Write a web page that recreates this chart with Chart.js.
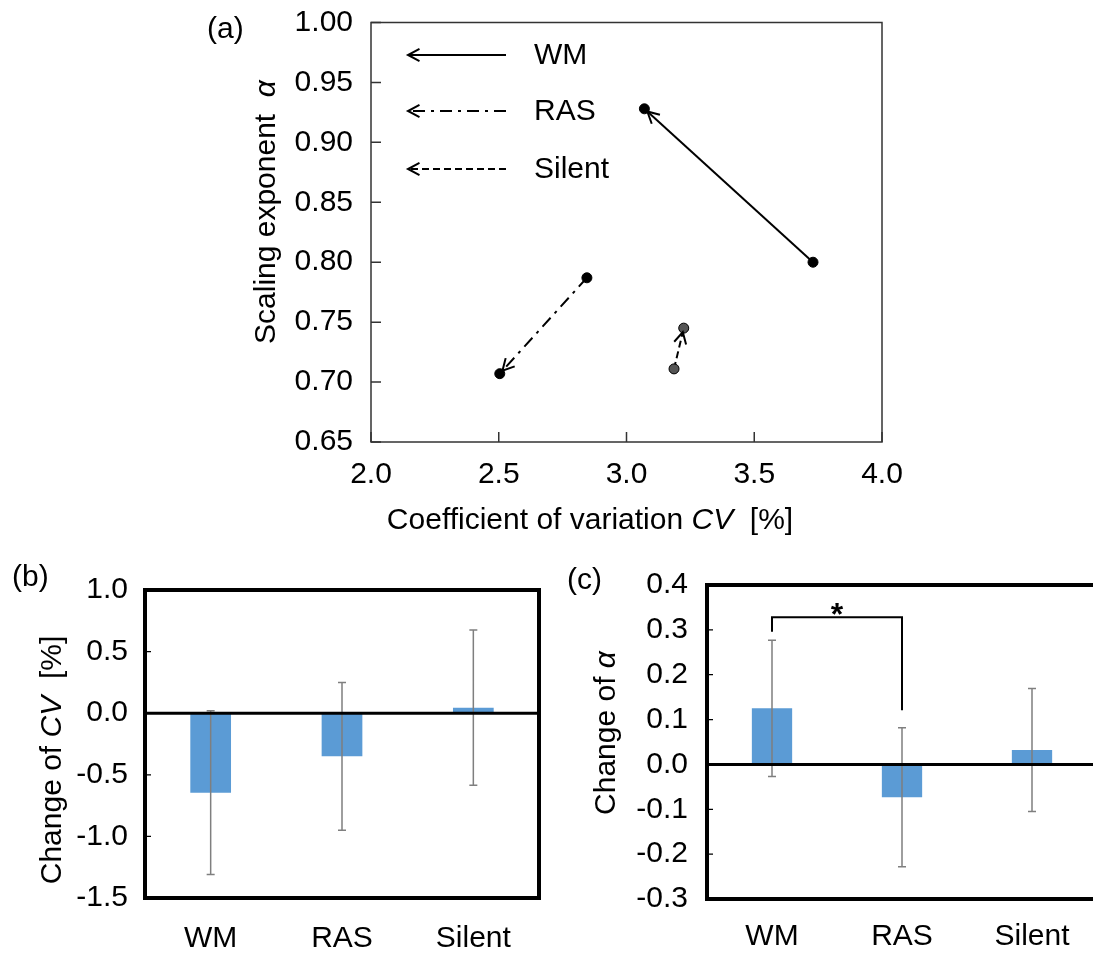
<!DOCTYPE html>
<html>
<head>
<meta charset="utf-8">
<script src="https://cdn.jsdelivr.net/npm/chart.js@4.4.0/dist/chart.umd.min.js"></script>
<style>
  html, body { margin: 0; padding: 0; background: #fff; overflow: hidden; width: 1093px; height: 953px; }
  canvas { position: absolute; }
  #ca { left: 0; top: 0; }
  #cb { left: 0; top: 560px; }
  #cc { left: 560px; top: 560px; }
</style>
</head>
<body>
<canvas id="ca" width="1093" height="560"></canvas>
<canvas id="cb" width="560" height="393"></canvas>
<canvas id="cc" width="560" height="393"></canvas>
<script>
const groups = ['WM', 'RAS', 'Silent'];

// (a) before -> after
const cvBefore = [3.73, 2.845, 3.186];
const alphaBefore = [0.800, 0.787, 0.711];
const cvAfter = [3.07, 2.504, 3.224];
const alphaAfter = [0.928, 0.707, 0.745];
const xTicksA = [2.0, 2.5, 3.0, 3.5, 4.0];
const yTicksA = [0.65, 0.70, 0.75, 0.80, 0.85, 0.90, 0.95, 1.00];

// (b) change of CV
const cvChange = [-0.645, -0.35, 0.045];
const cvChangeSd = [0.665, 0.60, 0.63];
const yTicksB = [-1.5, -1.0, -0.5, 0.0, 0.5, 1.0];

// (c) change of alpha
const alphaChange = [0.125, -0.073, 0.032];
const alphaChangeSd = [0.152, 0.155, 0.137];
const yTicksC = [-0.3, -0.2, -0.1, 0.0, 0.1, 0.2, 0.3, 0.4];
const sigPair = [0, 1];
const sigBracket = [0.296, 0.328, 0.121]; // left foot, top, right foot

const FONT = '"Liberation Sans", Arial, sans-serif';
Chart.defaults.font.family = FONT;
Chart.defaults.font.size = 30;
Chart.defaults.color = '#000';

const dashes = [[], [12, 6, 3, 6], [7, 4]];
const dotFill = ['#000', '#000', '#555'];
const BAR = '#5B9BD5';

function setTicks(arr) {
  return s => { s.ticks = arr.map(v => ({ value: v })); };
}

// nudge layout padding until the plot area top sits where we want it
function pinTop(chart, target) {
  for (let k = 0; k < 4; k++) {
    const d = chart.chartArea.top - target;
    if (Math.abs(d) < 0.5) break;
    chart.options.layout.padding.top -= d;
    chart.update();
  }
}

function richText(ctx, parts, cx, cy, rot) {
  ctx.save();
  ctx.translate(cx, cy);
  if (rot) ctx.rotate(rot);
  ctx.textBaseline = 'middle';
  ctx.textAlign = 'left';
  ctx.fillStyle = '#000';
  let w = 0;
  parts.forEach(p => {
    ctx.font = (p.it ? 'italic ' : '') + '30px ' + FONT;
    p.w = ctx.measureText(p.t).width;
    w += p.w;
  });
  let x = -w / 2;
  parts.forEach(p => {
    ctx.font = (p.it ? 'italic ' : '') + '30px ' + FONT;
    ctx.fillText(p.t, x, 0);
    x += p.w;
  });
  ctx.restore();
}

function label(ctx, t, x, y) {
  ctx.save();
  ctx.font = '30px ' + FONT;
  ctx.fillStyle = '#000';
  ctx.textBaseline = 'middle';
  ctx.textAlign = 'left';
  ctx.fillText(t, x, y);
  ctx.restore();
}

function arrowHead(ctx, tx, ty, dx, dy) {
  const L = 13, th = 28 * Math.PI / 180;
  const c = Math.cos(th), s = Math.sin(th);
  const a1x = dx * c - dy * s, a1y = dx * s + dy * c;
  const a2x = dx * c + dy * s, a2y = -dx * s + dy * c;
  ctx.save();
  ctx.setLineDash([]);
  ctx.strokeStyle = '#000';
  ctx.lineWidth = 2;
  ctx.beginPath();
  ctx.moveTo(tx - L * a1x, ty - L * a1y);
  ctx.lineTo(tx, ty);
  ctx.lineTo(tx - L * a2x, ty - L * a2y);
  ctx.stroke();
  ctx.restore();
}

// ---------- (a) ----------
const panelA = {
  id: 'panelA',
  afterDraw(chart) {
    const { ctx, chartArea: a, scales: { x, y } } = chart;
    ctx.save();
    ctx.strokeStyle = '#333';
    ctx.lineWidth = 1.5;
    ctx.strokeRect(a.left, a.top, a.right - a.left, a.bottom - a.top);
    ctx.beginPath();
    xTicksA.forEach(v => { const p = x.getPixelForValue(v); ctx.moveTo(p, a.bottom); ctx.lineTo(p, a.bottom - 10); });
    yTicksA.forEach(v => { const p = y.getPixelForValue(v); ctx.moveTo(a.left, p); ctx.lineTo(a.left + 10, p); });
    ctx.stroke();
    ctx.restore();

    groups.forEach((g, i) => {
      const x0 = x.getPixelForValue(cvBefore[i]), y0 = y.getPixelForValue(alphaBefore[i]);
      const x1 = x.getPixelForValue(cvAfter[i]), y1 = y.getPixelForValue(alphaAfter[i]);
      const len = Math.hypot(x1 - x0, y1 - y0);
      const dx = (x1 - x0) / len, dy = (y1 - y0) / len;
      arrowHead(ctx, x1 - 4 * dx, y1 - 4 * dy, dx, dy);
    });

    // legend
    const legY = [55, 111, 169];
    groups.forEach((g, i) => {
      ctx.save();
      ctx.strokeStyle = '#000';
      ctx.lineWidth = 2;
      ctx.setLineDash(dashes[i]);
      ctx.beginPath();
      ctx.moveTo(506, legY[i]);
      ctx.lineTo(409, legY[i]);
      ctx.stroke();
      ctx.restore();
      arrowHead(ctx, 408, legY[i], -1, 0);
      label(ctx, g, 534, legY[i] + 1);
    });

    label(ctx, '(a)', 207, 30);
    richText(ctx, [{ t: 'Scaling exponent  ' }, { t: 'α', it: true }], 267, 212, -Math.PI / 2);
    richText(ctx, [{ t: 'Coefficient of variation ' }, { t: 'CV', it: true }, { t: '  [%]' }], 590, 521);
  }
};

const chartA = new Chart(document.getElementById('ca'), {
  type: 'scatter',
  data: {
    datasets: groups.map((g, i) => ({
      label: g,
      data: [{ x: cvBefore[i], y: alphaBefore[i] }, { x: cvAfter[i], y: alphaAfter[i] }],
      showLine: true,
      borderColor: '#000',
      borderWidth: 2,
      borderDash: dashes[i],
      pointRadius: 5,
      pointBackgroundColor: dotFill[i],
      pointBorderColor: '#000',
      pointBorderWidth: 1
    }))
  },
  options: {
    responsive: false, animation: false, devicePixelRatio: 1,
    layout: { padding: { left: 0, right: 211, top: 17, bottom: 0 } },
    plugins: { legend: { display: false }, tooltip: { enabled: false } },
    scales: {
      x: {
        type: 'linear', min: 2, max: 4,
        afterBuildTicks: setTicks(xTicksA),
        afterFit: s => { s.height = 118; },
        grid: { display: false, drawTicks: false }, border: { display: false },
        ticks: { padding: 15, maxRotation: 0, autoSkip: false, callback: v => v.toFixed(1) }
      },
      y: {
        type: 'linear', min: 0.65, max: 1.0,
        afterBuildTicks: setTicks(yTicksA),
        afterFit: s => { s.width = 371; },
        grid: { display: false, drawTicks: false }, border: { display: false },
        ticks: { padding: 18, autoSkip: false, font: { lineHeight: 0.3 }, callback: v => v.toFixed(2) }
      }
    }
  },
  plugins: [panelA]
});
pinTop(chartA, 17);

// ---------- bar panels ----------
function barPanel(id, vals, sds, ticks, letter, titleParts, titleX, titleY, letterX, letterY, extra) {
  return {
    id: id,
    afterDatasetsDraw(chart) {
      const { ctx, chartArea: a, scales: { x, y } } = chart;
      ctx.save();
      ctx.strokeStyle = '#7f7f7f';
      ctx.lineWidth = 1.5;
      ctx.beginPath();
      vals.forEach((v, i) => {
        const px = x.getPixelForValue(i);
        const t = y.getPixelForValue(v + sds[i]), b = y.getPixelForValue(v - sds[i]);
        ctx.moveTo(px, t); ctx.lineTo(px, b);
        ctx.moveTo(px - 4, t); ctx.lineTo(px + 4, t);
        ctx.moveTo(px - 4, b); ctx.lineTo(px + 4, b);
      });
      ctx.stroke();
      // zero line
      ctx.strokeStyle = '#000';
      ctx.lineWidth = 3;
      ctx.beginPath();
      const z = y.getPixelForValue(0);
      ctx.moveTo(a.left, z); ctx.lineTo(a.right, z);
      ctx.stroke();
      // ticks
      ctx.lineWidth = 1.2;
      ctx.beginPath();
      ticks.forEach(v => { const p = y.getPixelForValue(v); ctx.moveTo(a.left, p); ctx.lineTo(a.left + 6, p); });
      ctx.stroke();
      // frame
      ctx.lineWidth = 4;
      ctx.strokeRect(a.left, a.top, a.right - a.left, a.bottom - a.top);
      ctx.restore();
      if (extra) extra(chart);
      label(ctx, letter, letterX, letterY);
      richText(ctx, titleParts, titleX, titleY, -Math.PI / 2);
    }
  };
}

function barConfig(vals, ticks, min, max, pad, yWidth, xHeight, xPad, yPad, plugin) {
  return {
    type: 'bar',
    data: {
      labels: groups,
      datasets: [{ data: vals, backgroundColor: BAR, borderWidth: 0, barPercentage: 0.31, categoryPercentage: 1 }]
    },
    options: {
      responsive: false, animation: false, devicePixelRatio: 1,
      layout: { padding: pad },
      plugins: { legend: { display: false }, tooltip: { enabled: false } },
      scales: {
        x: {
          grid: { display: false, drawTicks: false }, border: { display: false },
          afterFit: s => { s.height = xHeight; },
          ticks: { padding: xPad, maxRotation: 0, autoSkip: false }
        },
        y: {
          type: 'linear', min: min, max: max,
          afterBuildTicks: setTicks(ticks),
          afterFit: s => { s.width = yWidth; },
          grid: { display: false, drawTicks: false }, border: { display: false },
          ticks: { padding: yPad, autoSkip: false, font: { lineHeight: 0.3 }, callback: v => v.toFixed(1) }
        }
      }
    },
    plugins: [plugin]
  };
}

const chartB = new Chart(document.getElementById('cb'), barConfig(
  cvChange, yTicksB, -1.5, 1.0, { left: 0, right: 21, top: 30, bottom: 0 }, 145, 55, 23, 17,
  barPanel('panelB', cvChange, cvChangeSd, yTicksB, '(b)',
    [{ t: 'Change of ' }, { t: 'CV', it: true }, { t: '  [%]' }], 53, 200, 12, 18)
));
pinTop(chartB, 30);

function bracket(chart) {
  const { ctx, scales: { x, y } } = chart;
  const xl = x.getPixelForValue(sigPair[0]), xr = x.getPixelForValue(sigPair[1]);
  const yl = y.getPixelForValue(sigBracket[0]), yt = y.getPixelForValue(sigBracket[1]), yr = y.getPixelForValue(sigBracket[2]);
  ctx.save();
  ctx.strokeStyle = '#000';
  ctx.lineWidth = 2;
  ctx.beginPath();
  ctx.moveTo(xl, yl); ctx.lineTo(xl, yt); ctx.lineTo(xr, yt); ctx.lineTo(xr, yr);
  ctx.stroke();
  ctx.font = 'bold 32px ' + FONT;
  ctx.fillStyle = '#000';
  ctx.textAlign = 'center';
  ctx.textBaseline = 'middle';
  ctx.fillText('*', (xl + xr) / 2, yt - 1);
  ctx.restore();
}

const chartC = new Chart(document.getElementById('cc'), barConfig(
  alphaChange, yTicksC, -0.3, 0.4, { left: 0, right: 23, top: 25, bottom: 0 }, 147, 54, 20, 19,
  barPanel('panelC', alphaChange, alphaChangeSd, yTicksC, '(c)',
    [{ t: 'Change of ' }, { t: 'α', it: true }], 47, 173, 7, 21, bracket)
));
pinTop(chartC, 25);
</script>
</body>
</html>
